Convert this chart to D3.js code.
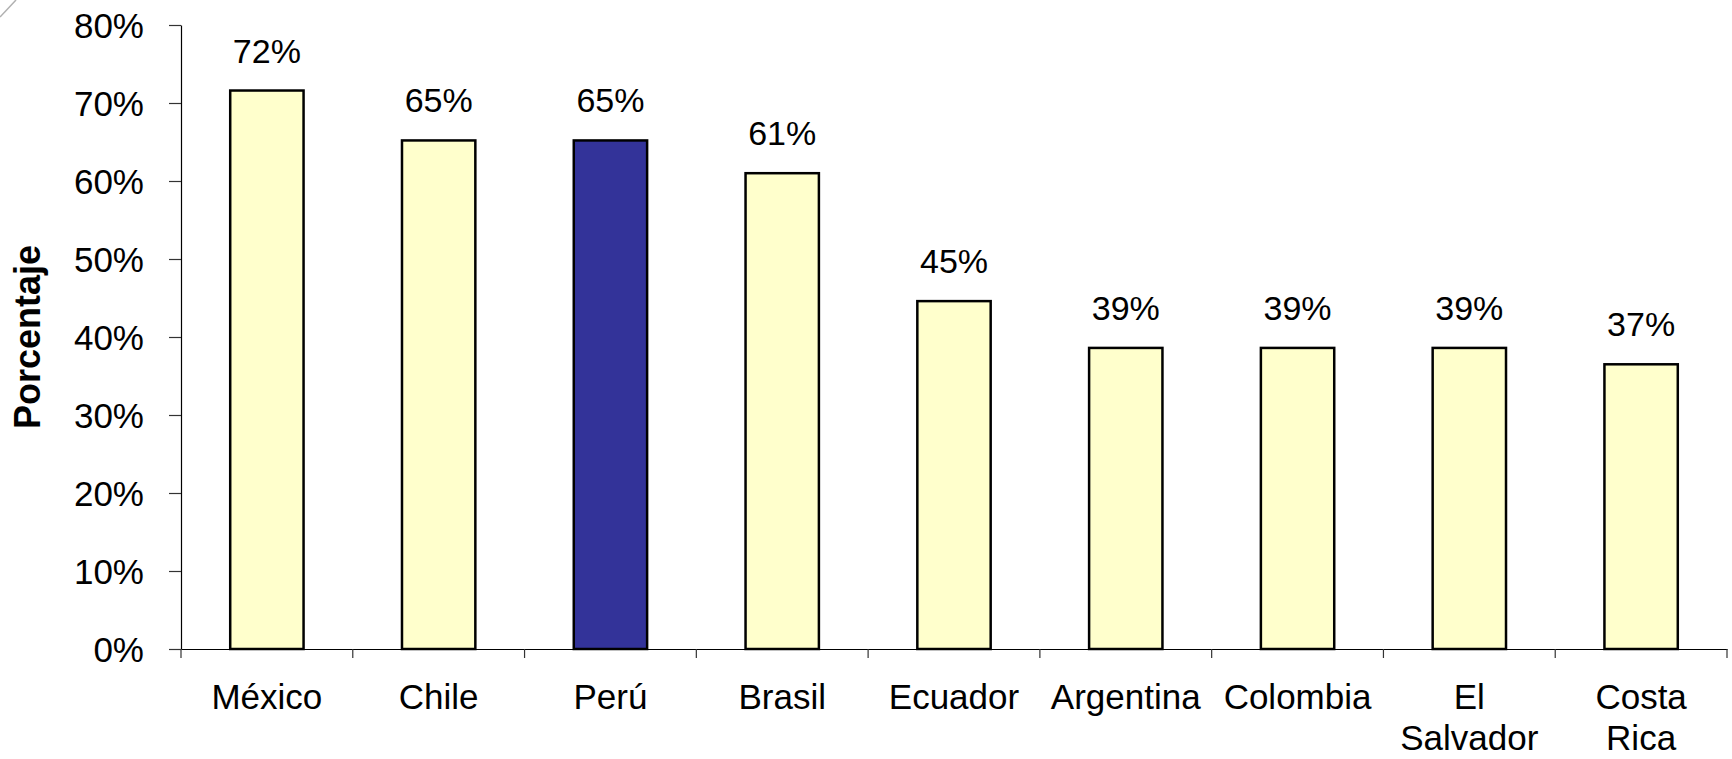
<!DOCTYPE html>
<html>
<head>
<meta charset="utf-8">
<script src="https://cdn.jsdelivr.net/npm/d3@7"></script>
<style>
  html, body { margin: 0; padding: 0; background: #fff; }
  svg { display: block; }
  text { font-family: "Liberation Sans", Arial, sans-serif; fill: #000; }
</style>
</head>
<body>
<svg id="chart" width="1732" height="759"></svg>
<script>
const categories = ["México", "Chile", "Perú", "Brasil", "Ecuador", "Argentina", "Colombia", "El Salvador", "Costa Rica"];
const values = [71.6, 65.2, 65.2, 61.0, 44.6, 38.6, 38.6, 38.6, 36.5];
const highlighted = ["Perú"];
const yTicks = [0, 10, 20, 30, 40, 50, 60, 70, 80];
const yTitle = "Porcentaje";

(function () {
const svg = d3.select("#chart");
const mLeft = 181, mRight = 1727, mTop = 25, mBottom = 649;

// decorative corner stroke from the original slide
svg.append("line").attr("x1", 0).attr("y1", 17).attr("x2", 16).attr("y2", 0)
  .attr("stroke", "#b0b0b0").attr("stroke-width", 1.5);

const x = d3.scaleBand().domain(categories).range([mLeft, mRight]).paddingInner(0).paddingOuter(0);
const y = d3.scaleLinear().domain([0, 80]).range([mBottom, mTop]);

const barW = x.bandwidth() * 0.427;

// Y axis
const yAxis = svg.append("g").attr("transform", `translate(${mLeft},0)`)
  .call(d3.axisLeft(y).tickValues(yTicks).tickFormat(d => d + "%").tickSize(12).tickSizeOuter(0).tickPadding(25));
yAxis.select(".domain").attr("stroke", "#000").attr("stroke-width", 1.2);
yAxis.selectAll(".tick line").attr("stroke", "#333").attr("stroke-width", 1.2);
yAxis.selectAll(".tick text").attr("font-size", 35).attr("font-family", "Liberation Sans, Arial, sans-serif").attr("fill", "#000").attr("dy", "0.35em");

// Bars
svg.append("g").selectAll("rect").data(categories).join("rect")
  .attr("x", d => x(d) + x.bandwidth() / 2 - barW / 2)
  .attr("y", (d, i) => y(values[i]))
  .attr("width", barW)
  .attr("height", (d, i) => y(0) - y(values[i]))
  .attr("fill", d => highlighted.includes(d) ? "#333399" : "#FFFFCC")
  .attr("stroke", "#000")
  .attr("stroke-width", 2.5);

// X axis
const xAxis = svg.append("g").attr("transform", `translate(0,${mBottom})`)
  .call(d3.axisBottom(x).tickSize(0).tickSizeOuter(0).tickFormat(""));
xAxis.select(".domain").attr("stroke", "#000").attr("stroke-width", 1.2);
xAxis.selectAll(".tick").remove();
const bounds = categories.map(d => x(d)).concat([x(categories[categories.length - 1]) + x.step()]);
svg.append("g").selectAll("line").data(bounds).join("line")
  .attr("x1", d => d).attr("x2", d => d)
  .attr("y1", mBottom).attr("y2", mBottom + 9)
  .attr("stroke", "#333").attr("stroke-width", 1.2);

// Category labels (wrapped when wider than band)
const catG = svg.append("g");
categories.forEach(c => {
  const t = catG.append("text")
    .attr("x", x(c) + x.bandwidth() / 2)
    .attr("y", mBottom + 60)
    .attr("text-anchor", "middle")
    .attr("font-size", 35)
    .text(c);
  if (t.node().getComputedTextLength() > x.bandwidth() - 8 && c.includes(" ")) {
    const words = c.split(" ");
    t.text(null);
    words.forEach((w, k) => {
      t.append("tspan").attr("x", x(c) + x.bandwidth() / 2).attr("dy", k === 0 ? 0 : 41).text(w);
    });
  }
});

// Data labels
svg.append("g").selectAll("text").data(categories).join("text")
  .attr("x", d => x(d) + x.bandwidth() / 2)
  .attr("y", (d, i) => y(values[i]) - 28)
  .attr("text-anchor", "middle")
  .attr("font-size", 34)
  .text((d, i) => Math.round(values[i]) + "%");

// Y title
svg.append("text")
  .attr("transform", `translate(40,${(mTop + mBottom) / 2}) rotate(-90)`)
  .attr("text-anchor", "middle")
  .attr("font-size", 36)
  .attr("font-weight", "bold")
  .text(yTitle);
})();
</script>
</body>
</html>
